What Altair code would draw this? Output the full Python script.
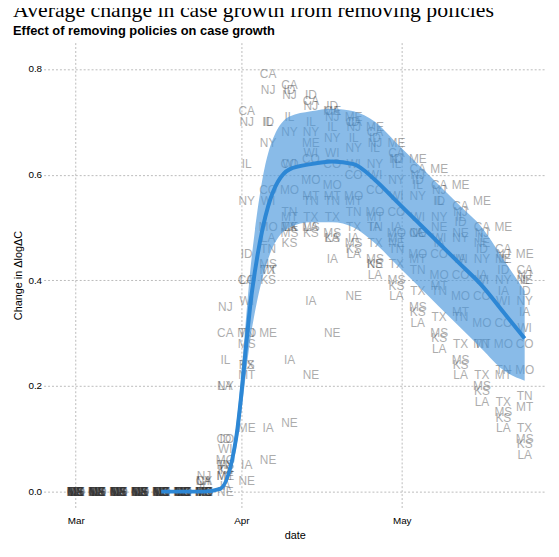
import altair as alt
import pandas as pd

dates = ["2020-03-01","2020-03-05","2020-03-09","2020-03-13","2020-03-17","2020-03-21","2020-03-25","2020-03-29",
         "2020-04-02","2020-04-06","2020-04-10","2020-04-14","2020-04-18","2020-04-22","2020-04-26","2020-04-30",
         "2020-05-04","2020-05-08","2020-05-12","2020-05-16","2020-05-20","2020-05-24"]

states = {
 "CA": [0,0,0,0,0,0,0.02,0.30,0.72,0.79,0.77,0.74,0.72,0.70,0.68,0.64,0.61,0.58,0.54,0.50,0.46,0.42],
 "NJ": [0,0,0,0,0,0,0.03,0.35,0.70,0.76,0.75,0.73,0.71,0.69,0.66,0.63,0.60,0.57,0.53,0.49,0.45,0.41],
 "IL": [0,0,0,0,0,0,0.01,0.25,0.62,0.70,0.71,0.70,0.69,0.67,0.65,0.62,0.58,0.55,0.52,0.48,0.44,0.40],
 "NY": [0,0,0,0,0,0,0.02,0.20,0.55,0.66,0.68,0.68,0.67,0.65,0.62,0.59,0.56,0.52,0.48,0.44,0.40,0.36],
 "ID": [0,0,0,0,0,0,0,0.10,0.45,0.70,0.76,0.75,0.73,0.70,0.67,0.63,0.59,0.55,0.51,0.46,0.42,0.38],
 "ME": [0,0,0,0,0,0,0,0.03,0.12,0.30,0.50,0.66,0.72,0.71,0.69,0.66,0.63,0.61,0.58,0.55,0.50,0.45],
 "WI": [0,0,0,0,0,0,0,0.08,0.36,0.55,0.62,0.64,0.64,0.62,0.60,0.56,0.52,0.48,0.44,0.40,0.36,0.31],
 "CO": [0,0,0,0,0,0,0,0.10,0.40,0.57,0.62,0.63,0.62,0.60,0.57,0.53,0.49,0.45,0.41,0.37,0.32,0.28],
 "MO": [0,0,0,0,0,0,0,0.06,0.30,0.50,0.57,0.59,0.58,0.56,0.53,0.49,0.45,0.41,0.37,0.32,0.28,0.23],
 "TN": [0,0,0,0,0,0,0,0.05,0.30,0.46,0.53,0.55,0.55,0.53,0.50,0.46,0.42,0.38,0.33,0.28,0.23,0.18],
 "TX": [0,0,0,0,0,0,0,0.04,0.24,0.42,0.50,0.52,0.52,0.50,0.47,0.43,0.38,0.33,0.28,0.22,0.17,0.12],
 "MS": [0,0,0,0,0,0,0,0.05,0.28,0.43,0.49,0.50,0.49,0.47,0.44,0.40,0.35,0.30,0.25,0.20,0.15,0.10],
 "LA": [0,0,0,0,0,0,0.02,0.20,0.40,0.48,0.50,0.50,0.48,0.45,0.41,0.37,0.32,0.27,0.22,0.17,0.12,0.07],
 "KS": [0,0,0,0,0,0,0,0.04,0.24,0.40,0.47,0.49,0.48,0.46,0.43,0.39,0.34,0.29,0.24,0.19,0.14,0.09],
 "MT": [0,0,0,0,0,0,0,0.03,0.22,0.42,0.52,0.56,0.56,0.55,0.52,0.48,0.44,0.39,0.34,0.28,0.22,0.16],
 "NE": [0,0,0,0,0,0,0,0,0.02,0.06,0.13,0.22,0.30,0.37,0.43,0.47,0.49,0.50,0.49,0.47,0.44,0.40],
 "IA": [0,0,0,0,0,0,0,0.01,0.05,0.12,0.25,0.36,0.44,0.48,0.50,0.50,0.49,0.47,0.44,0.41,0.38,0.34],
}

avg_dates = ["2020-03-17","2020-03-21","2020-03-25","2020-03-28","2020-03-31","2020-04-03","2020-04-06","2020-04-10",
             "2020-04-14","2020-04-18","2020-04-22","2020-04-26","2020-04-30","2020-05-04","2020-05-08","2020-05-12",
             "2020-05-16","2020-05-20","2020-05-24"]
avg_mid = [0.0,0.0,0.0,0.005,0.10,0.38,0.54,0.61,0.62,0.625,0.62,0.59,0.55,0.51,0.47,0.43,0.39,0.34,0.29]
avg_lo  = [0.0,0.0,0.0,0.002,0.08,0.31,0.44,0.50,0.51,0.51,0.50,0.47,0.43,0.39,0.35,0.31,0.27,0.23,0.21]
avg_hi  = [0.0,0.0,0.0,0.008,0.12,0.45,0.64,0.71,0.72,0.725,0.72,0.70,0.66,0.62,0.58,0.54,0.50,0.44,0.38]

rows = []
for s, vals in states.items():
    for d, v in zip(dates, vals):
        rows.append({"date": d, "state": s, "value": v})
df = pd.DataFrame(rows)
avg = pd.DataFrame({"date": avg_dates, "mid": avg_mid, "lo": avg_lo, "hi": avg_hi})

xs = alt.X("date:T", title="date", scale=alt.Scale(domain=["2020-02-24", "2020-05-28"]),
           axis=alt.Axis(format="%b", tickCount={"interval": "month", "step": 1}, gridDash=[2, 2],
                         gridColor="#bbb", domain=False, ticks=False, labelFontSize=10, titleFontSize=11,
                         titleFontWeight="normal", labelPadding=8, titlePadding=4))
ys = alt.Y("value:Q", title="Change in ΔlogΔC", scale=alt.Scale(domain=[-0.03, 0.85], nice=False),
           axis=alt.Axis(values=[0, 0.2, 0.4, 0.6, 0.8], format=".1f", gridDash=[2, 2], gridColor="#bbb",
                         domain=False, ticks=False, labelFontSize=10, titleFontSize=11, titleFontWeight="normal"))

texts = alt.Chart(df).mark_text(fontSize=12, color="#333", opacity=0.4, font="Liberation Sans").encode(
    x=xs, y=ys, text="state:N")
band = alt.Chart(avg).mark_area(color="#4a97dc", opacity=0.65, interpolate="monotone").encode(
    x="date:T", y="lo:Q", y2="hi:Q")
line = alt.Chart(avg).mark_line(color="#2d87d5", strokeWidth=4, interpolate="monotone").encode(
    x="date:T", y="mid:Q")

chart = alt.layer(texts, band, line).properties(
    width=508, height=470,
    padding={"left": 5, "top": -12, "right": 5, "bottom": 5},
    title=alt.TitleParams("Average change in case growth from removing policies",
                          subtitle="Effect of removing policies on case growth",
                          font="Liberation Serif", fontSize=22, fontWeight="normal", anchor="start",
                          subtitleFont="Liberation Sans", subtitleFontWeight="bold", subtitleFontSize=13,
                          subtitleColor="black", offset=4),
).configure_view(stroke=None).configure_axis(labelColor="black", titleColor="black")

chart.save("out.html", embed_options={"renderer": "svg", "actions": False})
